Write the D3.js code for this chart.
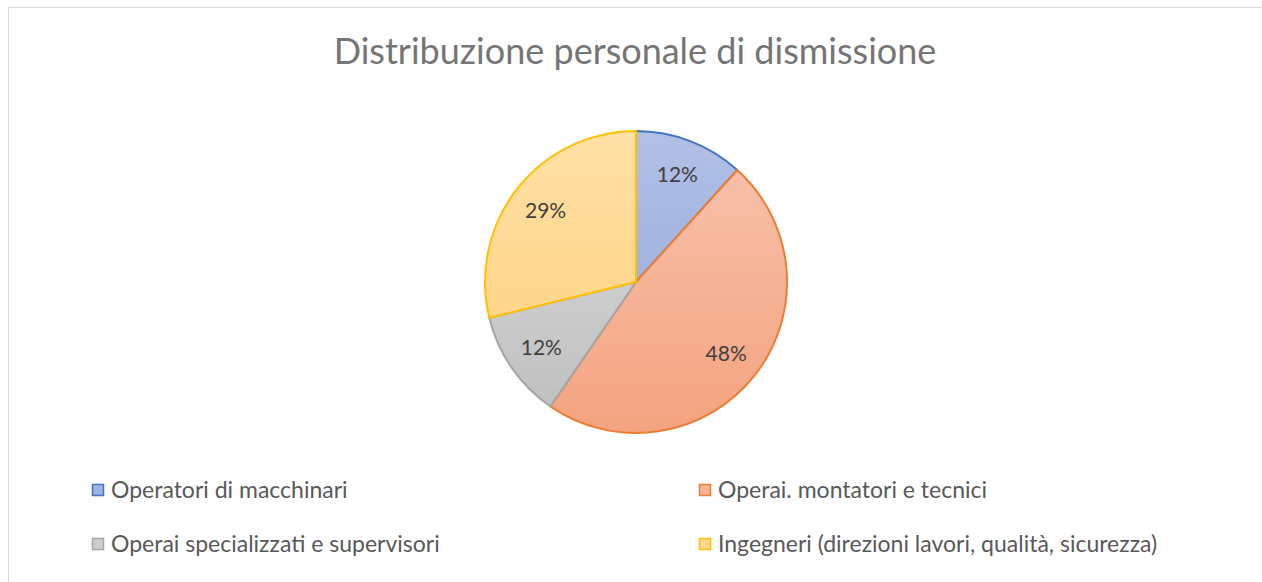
<!DOCTYPE html>
<html lang="it">
<head>
<meta charset="utf-8">
<title>Distribuzione personale di dismissione</title>
<script src="https://cdn.jsdelivr.net/npm/d3@7"></script>
<style>
  body { margin: 0; background: #fff; }
  svg text { font-family: Lato, "Open Sans", sans-serif; }
</style>
</head>
<body>
<div id="chart"></div>
<script>
// data (percent of staff)
let categories = ['Operatori di macchinari', 'Operai. montatori e tecnici',
                  'Operai specializzati e supervisori', 'Ingegneri (direzioni lavori, qualità, sicurezza)']
let values = [11.7, 47.9, 11.6, 28.8]
let labels = ['12%', '48%', '12%', '29%']

let strokes = ['#4472c4', '#ed7d31', '#a5a5a5', '#ffc000']
let topFill = ['#b2c0e6', '#f7c4ae', '#dcdcdc', '#ffe0a6']
let botFill = ['#8ea4d6', '#f4a37f', '#bebebe', '#ffcf78']

let W = 1262, H = 582
let cx = 636, cy = 282, R = 151

let svg = d3.select('#chart').append('svg')
  .attr('width', W).attr('height', H)

svg.append('rect')
  .attr('x', 8.5).attr('y', 7.5)
  .attr('width', 1260).attr('height', 600)
  .attr('fill', '#fff').attr('stroke', '#d9d9d9')

svg.append('text')
  .attr('x', 635).attr('y', 64)
  .attr('text-anchor', 'middle')
  .attr('font-size', 36)
  .attr('fill', '#757575')
  .text('Distribuzione personale di dismissione')

let defs = svg.append('defs')
categories.forEach((c, i) => {
  let g = defs.append('linearGradient')
    .attr('id', 'grad' + i)
    .attr('gradientUnits', 'userSpaceOnUse')
    .attr('x1', 0).attr('y1', -R).attr('x2', 0).attr('y2', R)
  g.append('stop').attr('offset', '0%').attr('stop-color', topFill[i])
  g.append('stop').attr('offset', '100%').attr('stop-color', botFill[i])
})

let pie = d3.pie().sort(null).value(d => d)
let arcs = pie(values)
let arc = d3.arc().innerRadius(0).outerRadius(R)
let labelArc = d3.arc().innerRadius(115).outerRadius(115)

let g = svg.append('g').attr('transform', 'translate(' + cx + ',' + cy + ')')

g.selectAll('path')
  .data(arcs)
  .enter()
  .append('path')
  .attr('d', arc)
  .attr('fill', (d, i) => 'url(#grad' + i + ')')
  .attr('stroke', (d, i) => strokes[i])
  .attr('stroke-width', 2)
  .attr('stroke-linejoin', 'round')

g.selectAll('text')
  .data(arcs)
  .enter()
  .append('text')
  .attr('transform', d => 'translate(' + labelArc.centroid(d) + ')')
  .attr('text-anchor', 'middle')
  .attr('dy', '0.35em')
  .attr('font-size', 21)
  .attr('fill', '#404040')
  .text((d, i) => labels[i])

// legend, two columns
let legX = [92, 699], legY = [490, 544]
let leg = svg.selectAll('.leg')
  .data(categories)
  .enter()
  .append('g')
  .attr('class', 'leg')
  .attr('transform', (d, i) => 'translate(' + legX[i % 2] + ',' + legY[Math.floor(i / 2)] + ')')

leg.append('rect')
  .attr('x', 0.5).attr('y', -5.5)
  .attr('width', 11).attr('height', 11)
  .attr('fill', (d, i) => 'url(#grad' + i + ')')
  .attr('stroke', (d, i) => strokes[i])
  .attr('stroke-width', 1.5)

leg.append('text')
  .attr('x', 19).attr('dy', '0.35em')
  .attr('font-size', 23)
  .attr('fill', '#595959')
  .text(d => d)
</script>
</body>
</html>
